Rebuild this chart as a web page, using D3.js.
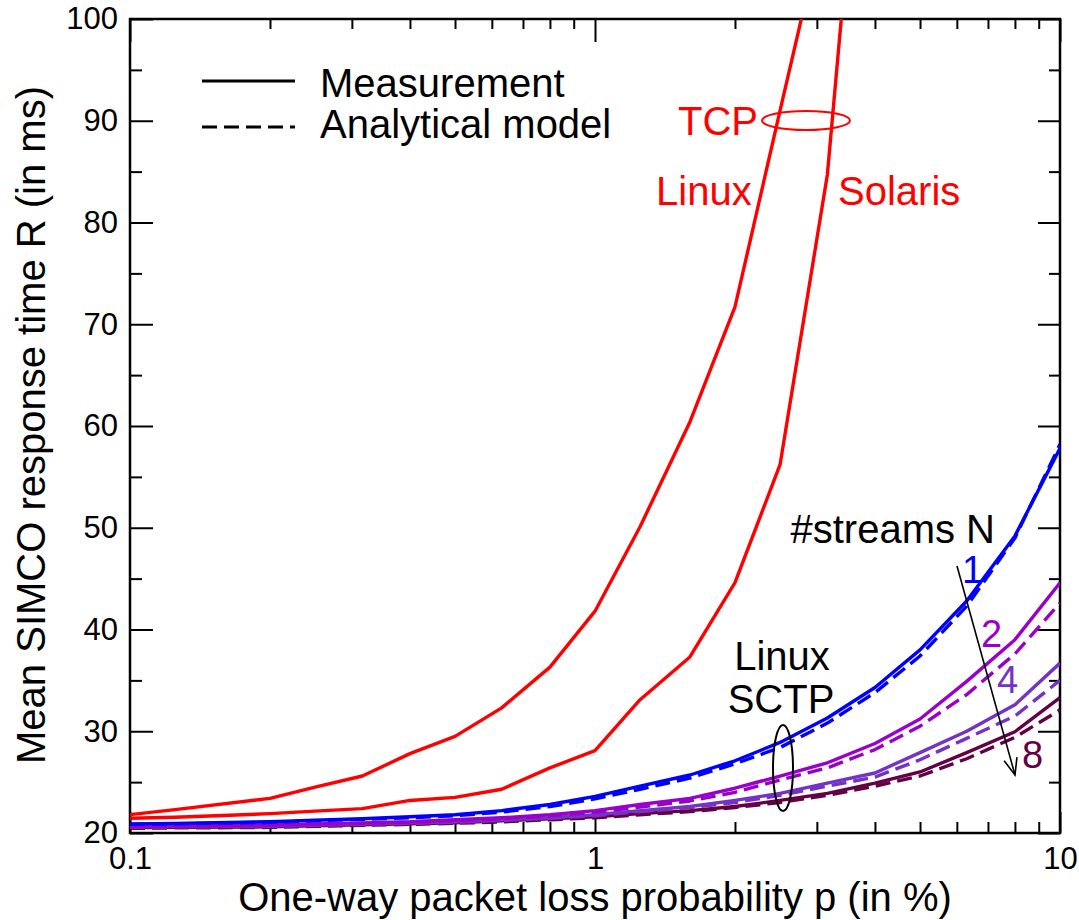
<!DOCTYPE html>
<html><head><meta charset="utf-8">
<script src="https://cdn.jsdelivr.net/npm/d3@7"></script>
<style>
body{margin:0;background:#fff;}
text{font-family:"Liberation Sans",Arial,Helvetica,sans-serif;}
</style></head>
<body><svg id="c" width="1079" height="920"></svg>
<script>
// ---------- data ----------
const pValues = [0.1, 0.125, 0.2, 0.25, 0.316, 0.4, 0.5, 0.63, 0.8, 1, 1.25, 1.6, 2, 2.5, 3.16, 4, 5, 6.3, 8, 10];
const tcpLinux   = [21.8, 22.3, 23.4, 24.5, 25.6, 27.8, 29.5, 32.3, 36.3, 41.8, 50.1, 60.4, 71.7, 91.0, 111];
const tcpSolaris = [21.45, 21.55, 21.9, 22.15, 22.4, 23.2, 23.5, 24.3, 26.4, 28.1, 33.1, 37.3, 44.6, 56.2, 84.7, 137];
const sctpN1meas  = [20.9, 20.95, 21.1, 21.25, 21.4, 21.6, 21.8, 22.2, 22.8, 23.6, 24.6, 25.7, 27.1, 28.9, 31.3, 34.3, 38.0, 42.8, 49.2, 57.8];
const sctpN1model = [20.85, 20.9, 21.05, 21.2, 21.35, 21.5, 21.7, 22.05, 22.6, 23.35, 24.3, 25.4, 26.8, 28.4, 30.8, 33.8, 37.4, 42.3, 49.0, 58.2];
const sctpN2meas  = [20.65, 20.7, 20.8, 20.9, 21.0, 21.1, 21.3, 21.5, 21.8, 22.2, 22.8, 23.4, 24.4, 25.6, 26.9, 28.8, 31.2, 34.9, 39.0, 44.6];
const sctpN2model = [20.6, 20.65, 20.75, 20.85, 20.95, 21.05, 21.2, 21.4, 21.7, 22.05, 22.55, 23.15, 24.0, 25.2, 26.4, 28.2, 30.5, 33.6, 37.6, 42.6];
const sctpN4meas  = [20.6, 20.65, 20.7, 20.8, 20.9, 21.0, 21.1, 21.3, 21.5, 21.8, 22.2, 22.6, 23.2, 23.9, 24.9, 25.9, 27.9, 30.0, 32.6, 36.7];
const sctpN4model = [20.55, 20.6, 20.65, 20.75, 20.85, 20.95, 21.05, 21.25, 21.45, 21.7, 22.1, 22.5, 23.0, 23.7, 24.6, 25.5, 27.2, 29.3, 31.5, 35.0];
const sctpN8meas  = [20.5, 20.55, 20.6, 20.7, 20.8, 20.9, 21.0, 21.2, 21.4, 21.6, 21.9, 22.2, 22.6, 23.2, 23.9, 24.9, 26.0, 27.9, 29.95, 33.3];
const sctpN8model = [20.45, 20.5, 20.55, 20.65, 20.75, 20.85, 20.95, 21.1, 21.3, 21.5, 21.8, 22.1, 22.5, 23.0, 23.7, 24.6, 25.6, 27.3, 29.4, 32.1];
const yMajorTicks = [20, 30, 40, 50, 60, 70, 80, 90, 100];
const yMinorTicks = [25, 35, 45, 55, 65, 75, 85, 95];
const xMajorTicks = [0.1, 1, 10];
const xTickLabels = ["0.1", "1", "10"];
const xMinorTicks = [0.2,0.3,0.4,0.5,0.6,0.7,0.8,0.9,2,3,4,5,6,7,8,9];
const streamLabels = ["1", "2", "4", "8"];

// ---------- setup ----------
const svg = d3.select("#c");
const L = 130, R = 1060, T = 19, B = 833;
const x = d3.scaleLog().domain([0.1, 10]).range([L, R]);
const y = d3.scaleLinear().domain([20, 100]).range([B, T]);
const FONT_TICK = 31, FONT_BIG = 40;

svg.append("defs").append("clipPath").attr("id", "plotclip")
  .append("rect").attr("x", L).attr("y", T).attr("width", R - L).attr("height", B - T);

// ---------- axes ----------
function styleAxis(g){ g.select(".domain").remove(); g.selectAll("line").attr("stroke","#000").attr("stroke-width",2); g.selectAll("text").attr("font-size",FONT_TICK).attr("fill","#000").style("font-family",'"Liberation Sans",Arial,sans-serif'); }
svg.append("g").attr("transform",`translate(${L},0)`)
  .call(d3.axisLeft(y).tickValues(yMajorTicks).tickSize(-23).tickPadding(12).tickFormat(d3.format("d"))).call(styleAxis);
svg.append("g").attr("transform",`translate(${L},0)`)
  .call(d3.axisLeft(y).tickValues(yMinorTicks).tickSize(-12).tickFormat("")).call(styleAxis);
svg.append("g").attr("transform",`translate(${R},0)`)
  .call(d3.axisRight(y).tickValues(yMajorTicks).tickSize(-22).tickFormat("")).call(styleAxis);
svg.append("g").attr("transform",`translate(${R},0)`)
  .call(d3.axisRight(y).tickValues(yMinorTicks).tickSize(-11).tickFormat("")).call(styleAxis);
svg.append("g").attr("transform",`translate(0,${B})`)
  .call(d3.axisBottom(x).tickValues(xMajorTicks).tickSize(-21).tickPadding(14).tickFormat((d,i)=>xTickLabels[i])).call(styleAxis);
svg.append("g").attr("transform",`translate(0,${B})`)
  .call(d3.axisBottom(x).tickValues(xMinorTicks).tickSize(-11).tickFormat("")).call(styleAxis);
svg.append("g").attr("transform",`translate(0,${T})`)
  .call(d3.axisTop(x).tickValues(xMajorTicks).tickSize(-23).tickFormat("")).call(styleAxis);
svg.append("g").attr("transform",`translate(0,${T})`)
  .call(d3.axisTop(x).tickValues(xMinorTicks).tickSize(-10).tickFormat("")).call(styleAxis);

svg.append("rect").attr("x",L).attr("y",T).attr("width",R-L).attr("height",B-T)
  .attr("fill","none").attr("stroke","#000").attr("stroke-width",2.5);

// axis titles
svg.append("text").attr("x",(L+R)/2).attr("y",911).attr("text-anchor","middle")
  .attr("font-size",FONT_BIG).text("One-way packet loss probability p (in %)");
svg.append("text").attr("transform","translate(45,425) rotate(-90)").attr("text-anchor","middle")
  .attr("font-size",FONT_BIG).text("Mean SIMCO response time R (in ms)");

// ---------- series ----------
const line = d3.line().x(d=>x(d[0])).y(d=>y(d[1]));
const plot = svg.append("g").attr("clip-path","url(#plotclip)");
const series = [
  {v:sctpN8model, c:"#660044", dash:true},
  {v:sctpN8meas,  c:"#660044", dash:false},
  {v:sctpN4model, c:"#7433c6", dash:true},
  {v:sctpN4meas,  c:"#7433c6", dash:false},
  {v:sctpN2model, c:"#9900cc", dash:true},
  {v:sctpN2meas,  c:"#9900cc", dash:false},
  {v:sctpN1model, c:"#0000ff", dash:true},
  {v:sctpN1meas,  c:"#0000ff", dash:false},
  {v:tcpSolaris,  c:"#ff0000", dash:false},
  {v:tcpLinux,    c:"#ff0000", dash:false}
];
series.forEach(s=>{
  const pts = s.v.map((v,i)=>[pValues[i], v]);
  plot.append("path").attr("d", line(pts)).attr("fill","none")
    .attr("stroke", s.c).attr("stroke-width", 3.4)
    .attr("stroke-dasharray", s.dash ? "15,7" : null)
    .attr("stroke-linejoin","round");
});

// ---------- legend ----------
svg.append("line").attr("x1",202).attr("x2",295).attr("y1",81).attr("y2",81).attr("stroke","#000").attr("stroke-width",3);
svg.append("line").attr("x1",202).attr("x2",295).attr("y1",127).attr("y2",127).attr("stroke","#000").attr("stroke-width",3).attr("stroke-dasharray","15,7");
svg.append("text").attr("x",320).attr("y",97).attr("font-size",FONT_BIG).text("Measurement");
svg.append("text").attr("x",320).attr("y",138).attr("font-size",FONT_BIG).text("Analytical model");

// ---------- annotations ----------
const red = "#ff0000";
svg.append("text").attr("x",678).attr("y",135).attr("font-size",FONT_BIG).attr("fill",red).text("TCP");
svg.append("ellipse").attr("cx",806).attr("cy",120.5).attr("rx",44).attr("ry",9.5).attr("fill","none").attr("stroke",red).attr("stroke-width",2);
svg.append("text").attr("x",656).attr("y",205).attr("font-size",FONT_BIG).attr("fill",red).text("Linux");
svg.append("text").attr("x",838).attr("y",205).attr("font-size",FONT_BIG).attr("fill",red).text("Solaris");

svg.append("text").attr("x",782).attr("y",670).attr("text-anchor","middle").attr("font-size",FONT_BIG).text("Linux");
svg.append("text").attr("x",781).attr("y",713).attr("text-anchor","middle").attr("font-size",FONT_BIG).text("SCTP");
svg.append("ellipse").attr("cx",783).attr("cy",768).attr("rx",10).attr("ry",43).attr("fill","none").attr("stroke","#000").attr("stroke-width",2);

svg.append("text").attr("x",995).attr("y",543).attr("text-anchor","end").attr("font-size",FONT_BIG).text("#streams N");
const labColors = ["#0000ff","#9900cc","#7433c6","#660044"];
const labPos = [[962,583],[981,647],[997,693],[1022,768]];
streamLabels.forEach((t,i)=>{
  svg.append("text").attr("x",labPos[i][0]).attr("y",labPos[i][1]).attr("font-size",38).attr("fill",labColors[i]).text(t);
});
// arrow
const ax1=957, ay1=566, ax2=1015, ay2=775;
svg.append("line").attr("x1",ax1).attr("y1",ay1).attr("x2",ax2).attr("y2",ay2).attr("stroke","#000").attr("stroke-width",1.6);
const ang = Math.atan2(ay2-ay1, ax2-ax1), hl = 18, ha = 0.38;
svg.append("path").attr("d",`M${ax2-hl*Math.cos(ang-ha)},${ay2-hl*Math.sin(ang-ha)} L${ax2},${ay2} L${ax2-hl*Math.cos(ang+ha)},${ay2-hl*Math.sin(ang+ha)}`)
  .attr("fill","none").attr("stroke","#000").attr("stroke-width",1.6);
</script></body></html>
